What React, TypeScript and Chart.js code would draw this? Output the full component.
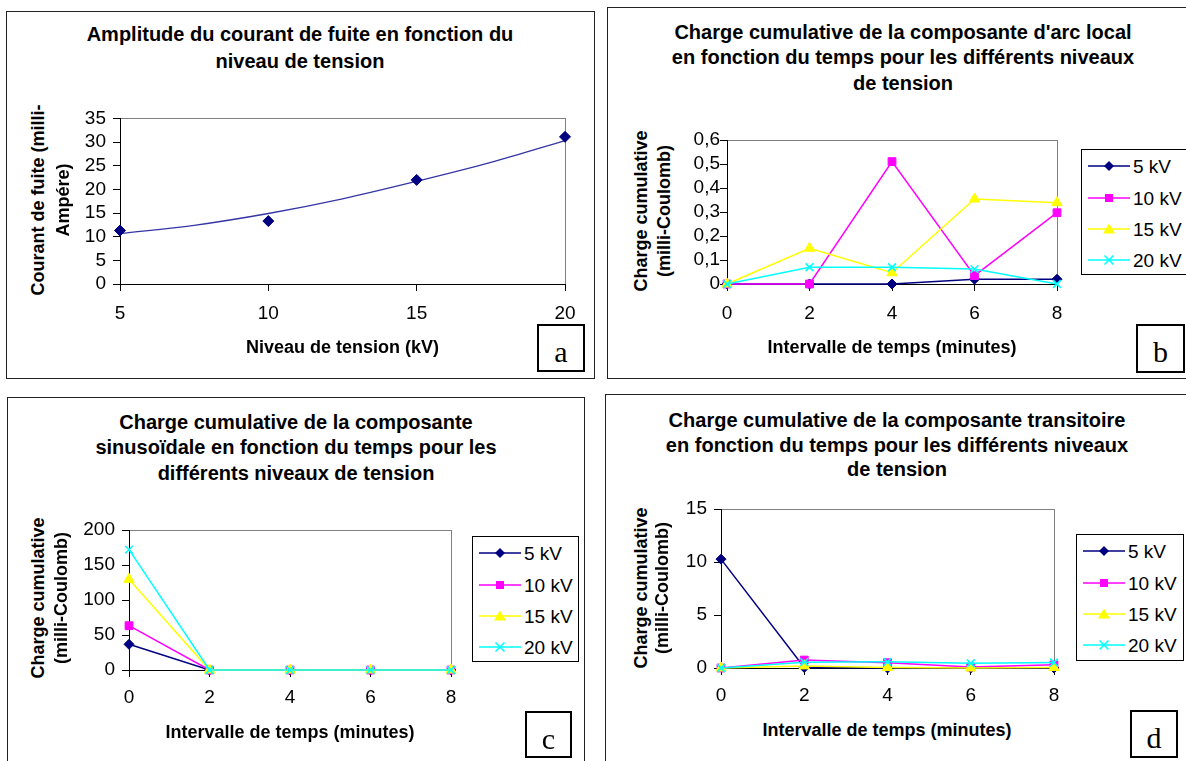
import React, { useEffect, useRef } from 'react';
import { Chart, registerables } from 'chart.js';

Chart.register(...registerables);

// ---------------- Data ----------------
// Panel a : leakage current vs voltage level
const voltageLevels = [5, 10, 15, 20];
const leakageCurrent = [11.3, 13.3, 22.0, 31.1];
const trendVoltage = [5, 7.5, 10, 12.5, 15, 17.5, 20];
const trendCurrent = [10.65, 12.4, 14.9, 18.0, 21.7, 25.7, 30.3];
const voltageTicks = ['5', '10', '15', '20'];
const currentTicks = ['0', '5', '10', '15', '20', '25', '30', '35'];

// Panels b, c, d : cumulative charge vs time
const timeMinutes = [0, 2, 4, 6, 8];
const timeTicks = ['0', '2', '4', '6', '8'];
const seriesLabels = ['5 kV', '10 kV', '15 kV', '20 kV'];

// b : local arc component
const arc5kV = [0, 0, 0, 0.02, 0.02];
const arc10kV = [0, 0, 0.51, 0.035, 0.297];
const arc15kV = [0, 0.149, 0.047, 0.354, 0.339];
const arc20kV = [0, 0.07, 0.07, 0.062, 0];
const arcTicks = ['0', '0,1', '0,2', '0,3', '0,4', '0,5', '0,6'];

// c : sinusoidal component
const sinus5kV = [36.7, 0, 0, 0, 0];
const sinus10kV = [63.3, 0, 0, 0, 0];
const sinus15kV = [129.5, 0, 0, 0, 0];
const sinus20kV = [172, 0, 0, 0, 0];
const sinusTicks = ['0', '50', '100', '150', '200'];

// d : transient component
const trans5kV = [10.27, 0.05, 0, 0, 0];
const trans10kV = [0, 0.75, 0.5, 0.1, 0.3];
const trans15kV = [0, 0.2, 0.05, 0, 0.05];
const trans20kV = [0, 0.55, 0.58, 0.45, 0.52];
const transTicks = ['0', '5', '10', '15'];

// ---------------- Styles ----------------
const FONT = "'Liberation Sans', Arial, sans-serif";
const SERIES_COLORS = ['#000080', '#FF00FF', '#FFFF00', '#00FFFF'];
const SERIES_POINTS = ['rectRot', 'rect', 'triangle', 'crossRot'];
const SERIES_RADIUS = [5, 5.5, 6, 5.5];

type Spec = {
  canvas: { x: number; y: number; w: number; h: number };
  plot: { l: number; t: number; r: number; b: number };
  x: { min: number; max: number; step: number; labels: string[]; pad: number };
  y: { min: number; max: number; step: number; labels: string[]; pad: number };
  datasets: any[];
};

const plotFrame = {
  id: 'plotFrame',
  beforeDraw(chart: any) {
    const { ctx, chartArea: a } = chart;
    ctx.save();
    ctx.strokeStyle = '#808080';
    ctx.lineWidth = 1;
    ctx.strokeRect(Math.round(a.left) + 0.5, Math.round(a.top) + 0.5, Math.round(a.width), Math.round(a.height));
    ctx.restore();
  },
};

function seriesDataset(i: number, values: number[]) {
  return {
    label: seriesLabels[i],
    data: timeMinutes.map((t, k) => ({ x: t, y: values[k] })),
    showLine: true,
    borderColor: SERIES_COLORS[i],
    backgroundColor: SERIES_COLORS[i],
    borderWidth: 1.5,
    pointStyle: SERIES_POINTS[i],
    pointRadius: SERIES_RADIUS[i],
    pointBorderColor: SERIES_COLORS[i],
    pointBackgroundColor: SERIES_COLORS[i],
    pointBorderWidth: i === 3 ? 1.6 : 1,
    order: 4 - i,
    clip: false,
    tension: 0,
  };
}

function buildConfig(spec: Spec): any {
  const { canvas, plot } = spec;
  const W = plot.l - canvas.x;
  const H = canvas.y + canvas.h - plot.b;
  const T = plot.t - canvas.y;
  const R = canvas.x + canvas.w - plot.r;
  const tickFont = { family: FONT, size: 19 };
  const grid = { display: true, drawOnChartArea: false, drawTicks: true, tickLength: 7, color: '#000', lineWidth: 1 };
  const border = { display: true, color: '#000', width: 1 };
  return {
    type: 'scatter',
    data: { datasets: spec.datasets },
    options: {
      animation: false,
      responsive: false,
      events: [],
      layout: { padding: { left: 0, top: T, right: R, bottom: 0 } },
      plugins: { legend: { display: false }, title: { display: false }, tooltip: { enabled: false } },
      scales: {
        x: {
          type: 'linear',
          min: spec.x.min,
          max: spec.x.max,
          ticks: {
            stepSize: spec.x.step,
            padding: spec.x.pad,
            color: '#000',
            font: tickFont,
            maxRotation: 0,
            autoSkip: false,
            callback: (_v: any, idx: number) => spec.x.labels[idx],
          },
          grid,
          border,
          afterFit: (s: any) => {
            s.height = H;
          },
        },
        y: {
          type: 'linear',
          min: spec.y.min,
          max: spec.y.max,
          ticks: {
            stepSize: spec.y.step,
            padding: spec.y.pad,
            color: '#000',
            font: tickFont,
            autoSkip: false,
            callback: (_v: any, idx: number) => spec.y.labels[idx],
          },
          grid,
          border,
          afterFit: (s: any) => {
            s.width = W;
          },
        },
      },
    },
    plugins: [plotFrame],
  };
}

function ChartCanvas({ spec }: { spec: Spec }) {
  const ref = useRef<HTMLCanvasElement>(null);
  useEffect(() => {
    const chart = new Chart(ref.current as HTMLCanvasElement, buildConfig(spec));
    return () => chart.destroy();
  }, []);
  const c = spec.canvas;
  return (
    <canvas
      ref={ref}
      width={c.w}
      height={c.h}
      style={{ position: 'absolute', left: c.x, top: c.y, width: c.w, height: c.h }}
    />
  );
}

// ---------------- Chart specs ----------------
const specA: Spec = {
  canvas: { x: 60, y: 100, w: 540, h: 240 },
  plot: { l: 120, t: 117, r: 565, b: 284 },
  x: { min: 5, max: 20, step: 5, labels: voltageTicks, pad: 11 },
  y: { min: 0, max: 35, step: 5, labels: currentTicks, pad: 7 },
  datasets: [
    {
      label: 'Tendance',
      data: trendVoltage.map((v, k) => ({ x: v, y: trendCurrent[k] })),
      showLine: true,
      borderColor: '#3535a5',
      borderWidth: 1.3,
      pointRadius: 0,
      tension: 0.35,
      order: 2,
      clip: false,
    },
    {
      label: 'Courant',
      data: voltageLevels.map((v, k) => ({ x: v, y: leakageCurrent[k] })),
      showLine: false,
      pointStyle: 'rectRot',
      pointRadius: 5.5,
      pointBackgroundColor: '#000080',
      pointBorderColor: '#000080',
      order: 1,
      clip: false,
    },
  ],
};

const specB: Spec = {
  canvas: { x: 680, y: 120, w: 395, h: 220 },
  plot: { l: 727, t: 140, r: 1057, b: 284 },
  x: { min: 0, max: 8, step: 2, labels: timeTicks, pad: 11 },
  y: { min: 0, max: 0.6, step: 0.1, labels: arcTicks, pad: 0 },
  datasets: [seriesDataset(0, arc5kV), seriesDataset(1, arc10kV), seriesDataset(2, arc15kV), seriesDataset(3, arc20kV)],
};

const specC: Spec = {
  canvas: { x: 70, y: 510, w: 400, h: 215 },
  plot: { l: 129, t: 530, r: 451, b: 670 },
  x: { min: 0, max: 8, step: 2, labels: timeTicks, pad: 9 },
  y: { min: 0, max: 200, step: 50, labels: sinusTicks, pad: 7 },
  datasets: [seriesDataset(0, sinus5kV), seriesDataset(1, sinus10kV), seriesDataset(2, sinus15kV), seriesDataset(3, sinus20kV)],
};

const specD: Spec = {
  canvas: { x: 670, y: 490, w: 400, h: 230 },
  plot: { l: 721, t: 509, r: 1054, b: 668 },
  x: { min: 0, max: 8, step: 2, labels: timeTicks, pad: 9 },
  y: { min: 0, max: 15, step: 5, labels: transTicks, pad: 7 },
  datasets: [seriesDataset(0, trans5kV), seriesDataset(1, trans10kV), seriesDataset(2, trans15kV), seriesDataset(3, trans20kV)],
};

// ---------------- HTML helpers ----------------
function Txt({ x, y, size, bold, rotate, children }: any) {
  return (
    <div
      style={{
        position: 'absolute',
        left: x,
        top: y,
        transform: `translate(-50%, -50%)${rotate ? ' rotate(-90deg)' : ''}`,
        fontSize: size,
        fontWeight: bold ? 'bold' : 'normal',
        lineHeight: 1,
        whiteSpace: 'nowrap',
      }}
    >
      {children}
    </div>
  );
}

function Marker({ i }: { i: number }) {
  const c = SERIES_COLORS[i];
  if (i === 0) return <polygon points="21,3 26,8 21,13 16,8" fill={c} />;
  if (i === 1) return <rect x={17} y={4} width={8} height={8} fill={c} />;
  if (i === 2) return <polygon points="21,2.5 27,12.5 15,12.5" fill={c} />;
  return (
    <g stroke={c} strokeWidth={1.6}>
      <line x1={16.5} y1={3.5} x2={25.5} y2={12.5} />
      <line x1={25.5} y1={3.5} x2={16.5} y2={12.5} />
    </g>
  );
}

function Legend({ left, top, width, height }: any) {
  const rows = [16, 47.5, 79, 110];
  return (
    <div
      style={{
        position: 'absolute',
        left,
        top,
        width,
        height,
        border: '1px solid #000',
        boxSizing: 'border-box',
        background: '#fff',
      }}
    >
      {seriesLabels.map((lab, i) => (
        <React.Fragment key={lab}>
          <svg style={{ position: 'absolute', left: 6, top: rows[i] - 8 }} width={44} height={16}>
            <line x1={0} y1={8} x2={42} y2={8} stroke={SERIES_COLORS[i]} strokeWidth={1.5} />
            <Marker i={i} />
          </svg>
          <div
            style={{
              position: 'absolute',
              left: 51,
              top: rows[i],
              transform: 'translateY(-50%)',
              fontSize: 19,
              lineHeight: 1,
              whiteSpace: 'nowrap',
            }}
          >
            {lab}
          </div>
        </React.Fragment>
      ))}
    </div>
  );
}

function LetterBox({ left, top, size, letter }: any) {
  return (
    <div
      style={{
        position: 'absolute',
        left,
        top,
        width: size,
        height: size,
        border: '2px solid #000',
        boxSizing: 'border-box',
        background: '#fff',
      }}
    >
      <div
        style={{
          position: 'absolute',
          left: 0,
          right: 0,
          top: 11,
          textAlign: 'center',
          fontFamily: "'Liberation Serif', 'Times New Roman', serif",
          fontSize: 30,
          lineHeight: '30px',
        }}
      >
        {letter}
      </div>
    </div>
  );
}

function Frame({ left, top, width, height }: any) {
  return (
    <div
      style={{
        position: 'absolute',
        left,
        top,
        width,
        height,
        border: '1px solid #222',
        boxSizing: 'border-box',
      }}
    />
  );
}

export default function App() {
  return (
    <div
      style={{
        position: 'absolute',
        left: 0,
        top: 0,
        width: 1186,
        height: 761,
        overflow: 'hidden',
        background: '#fff',
        fontFamily: FONT,
        color: '#000',
      }}
    >
      <Frame left={6} top={11} width={589} height={368} />
      <Frame left={607} top={7} width={600} height={372} />
      <Frame left={7} top={397} width={578} height={420} />
      <Frame left={605} top={394} width={600} height={420} />

      <ChartCanvas spec={specA} />
      <ChartCanvas spec={specB} />
      <ChartCanvas spec={specC} />
      <ChartCanvas spec={specD} />

      {/* Panel a */}
      <Txt x={300} y={34} size={20} bold>Amplitude du courant de fuite en fonction du</Txt>
      <Txt x={300} y={61} size={20} bold>niveau de tension</Txt>
      <Txt x={342.5} y={347} size={18} bold>Niveau de tension (kV)</Txt>
      <Txt x={38} y={200} size={18} bold rotate>Courant de fuite (milli-</Txt>
      <Txt x={63} y={200} size={18} bold rotate>Ampére)</Txt>
      <LetterBox left={537} top={324} size={48} letter="a" />

      {/* Panel b */}
      <Txt x={903} y={32} size={20} bold>Charge cumulative de la composante d'arc local</Txt>
      <Txt x={903} y={57} size={20} bold>en fonction du temps pour les différents niveaux</Txt>
      <Txt x={903} y={83} size={20} bold>de tension</Txt>
      <Txt x={892} y={347} size={18} bold>Intervalle de temps (minutes)</Txt>
      <Txt x={641} y={211} size={18} bold rotate>Charge cumulative</Txt>
      <Txt x={664} y={211} size={18} bold rotate>(milli-Coulomb)</Txt>
      <Legend left={1081} top={149} width={130} height={126} />
      <LetterBox left={1136} top={324} size={49} letter="b" />

      {/* Panel c */}
      <Txt x={296} y={422} size={20} bold>Charge cumulative de la composante</Txt>
      <Txt x={296} y={447} size={20} bold>sinusoïdale en fonction du temps pour les</Txt>
      <Txt x={296} y={473} size={20} bold>différents niveaux de tension</Txt>
      <Txt x={290} y={732} size={18} bold>Intervalle de temps (minutes)</Txt>
      <Txt x={38} y={598} size={18} bold rotate>Charge cumulative</Txt>
      <Txt x={61} y={598} size={18} bold rotate>(milli-Coulomb)</Txt>
      <Legend left={472} top={536} width={107} height={126} />
      <LetterBox left={525} top={711} size={47} letter="c" />

      {/* Panel d */}
      <Txt x={897} y={420} size={20} bold>Charge cumulative de la composante transitoire</Txt>
      <Txt x={897} y={445} size={20} bold>en fonction du temps pour les différents niveaux</Txt>
      <Txt x={897} y={469} size={20} bold>de tension</Txt>
      <Txt x={887} y={730} size={18} bold>Intervalle de temps (minutes)</Txt>
      <Txt x={641} y={588} size={18} bold rotate>Charge cumulative</Txt>
      <Txt x={662} y={588} size={18} bold rotate>(milli-Coulomb)</Txt>
      <Legend left={1076} top={534} width={108} height={127} />
      <LetterBox left={1130} top={710} size={48} letter="d" />
    </div>
  );
}
